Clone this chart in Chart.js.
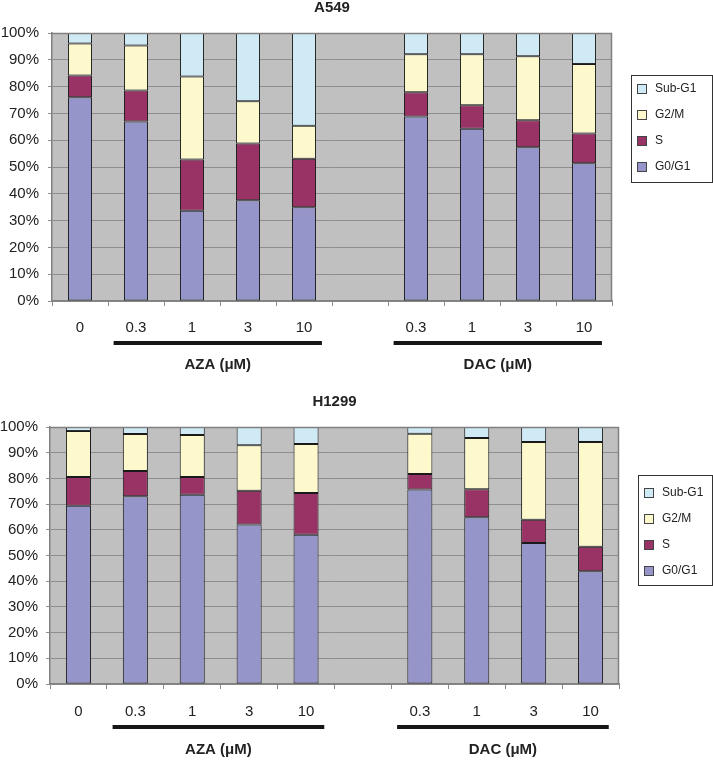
<!DOCTYPE html>
<html><head><meta charset="utf-8">
<script src="https://cdn.jsdelivr.net/npm/chart.js@4.4.0/dist/chart.umd.min.js"></script>
<style>
html,body{margin:0;padding:0;background:#fff;}
.wrap{position:relative;width:713px;height:380px;}
canvas{display:block;}
</style></head><body>
<div class="wrap"><canvas id="c1" width="713" height="380"></canvas></div>
<div class="wrap"><canvas id="c2" width="713" height="380"></canvas></div>
<script>
// ---- data ----
const categories = ['0', '0.3', '1', '3', '10', '', '0.3', '1', '3', '10'];
const seriesNames = ['G0/G1', 'S', 'G2/M', 'Sub-G1'];
const yTickValues = [0, 10, 20, 30, 40, 50, 60, 70, 80, 90, 100];
const groupLabels = ['AZA (μM)', 'DAC (μM)'];
const groupStart = [1, 6];
const groupEnd = [4, 9];

const a549G0G1 = [76, 67, 33.7, 37.6, 35, null, 68.8, 64.3, 57.4, 51.4];
const a549S    = [8.1, 11.5, 19.1, 21.2, 18.1, null, 9.1, 8.7, 10, 11.1];
const a549G2M  = [12, 16.8, 31, 15.7, 12.3, null, 14.2, 19.1, 23.9, 25.9];
const a549SubG1 = [3.9, 4.7, 16.2, 25.5, 34.6, null, 7.9, 7.9, 8.7, 11.6];

const h1299G0G1 = [69.4, 73.1, 73.6, 62.1, 58.1, null, 75.7, 64.9, 54.9, 43.9];
const h1299S    = [11.1, 9.8, 6.9, 13.1, 16.2, null, 6.0, 10.9, 9.0, 9.5];
const h1299G2M  = [17.9, 14.4, 16.4, 17.7, 19.1, null, 15.7, 19.9, 30.3, 40.8];
const h1299SubG1 = [1.6, 2.7, 3.1, 7.1, 6.6, null, 2.6, 4.3, 5.8, 5.8];

// ---- styles ----
const seriesColors = ['#9595c9', '#993366', '#fdf9cd', '#cfeaf5'];
const FONT = "'Liberation Sans', Arial, sans-serif";
const TXT = '#222222';

const decor = {
  id: 'decor',
  beforeDraw(chart) {
    const a = chart.chartArea, ctx = chart.ctx;
    ctx.save();
    ctx.fillStyle = '#c0c0c0';
    ctx.fillRect(a.left, a.top, a.right - a.left, a.bottom - a.top);
    ctx.restore();
  },
  afterDraw(chart, args, o) {
    const a = chart.chartArea, ctx = chart.ctx;
    const xs = chart.scales.x;
    ctx.save();
    // top & right frame
    ctx.strokeStyle = '#808080';
    ctx.lineWidth = 1.5;
    ctx.beginPath();
    ctx.moveTo(a.left, a.top + 0.5);
    ctx.lineTo(a.right - 0.5, a.top + 0.5);
    ctx.lineTo(a.right - 0.5, a.bottom);
    ctx.stroke();
    // group bars and labels
    const w = xs.width / categories.length;
    for (let g = 0; g < groupLabels.length; g++) {
      const x1 = xs.getPixelForValue(groupStart[g]) - 0.4 * w;
      const x2 = xs.getPixelForValue(groupEnd[g]) + 0.32 * w;
      ctx.fillStyle = '#161616';
      ctx.fillRect(x1, a.bottom + o.barOffset - 2, x2 - x1, 4);
      ctx.font = 'bold 15px ' + FONT;
      ctx.textAlign = 'center';
      ctx.textBaseline = 'middle';
      ctx.fillStyle = TXT;
      ctx.fillText(groupLabels[g], (x1 + x2) / 2, a.bottom + o.labelOffset);
    }
    // legend
    const L = o.legend;
    ctx.fillStyle = '#ffffff';
    ctx.fillRect(L.x, L.y, L.w, L.h);
    ctx.strokeStyle = '#333333';
    ctx.lineWidth = 1;
    ctx.strokeRect(L.x + 0.5, L.y + 0.5, L.w - 1, L.h - 1);
    const ds = chart.data.datasets.slice().reverse();
    ctx.font = '12px ' + FONT;
    ctx.textAlign = 'left';
    ctx.textBaseline = 'middle';
    ds.forEach((d, i) => {
      const cy = L.y + L.first + i * L.step;
      ctx.fillStyle = d.backgroundColor;
      ctx.fillRect(L.x + 6, cy - 5, 10, 10);
      ctx.strokeStyle = '#444';
      ctx.strokeRect(L.x + 6.5, cy - 4.5, 9, 9);
      ctx.fillStyle = TXT;
      ctx.fillText(d.label, L.x + 24, cy);
    });
    ctx.restore();
  }
};

function makeChart(id, title, vals, cfg) {
  const datasets = seriesNames.map((n, i) => ({
    label: n,
    data: vals[i],
    backgroundColor: seriesColors[i],
    borderColor: '#1a1a1a',
    borderWidth: 1,
    borderSkipped: false,
    barPercentage: cfg.barPct,
    categoryPercentage: 1
  }));
  return new Chart(document.getElementById(id), {
    type: 'bar',
    data: { labels: categories, datasets },
    plugins: [decor],
    options: {
      responsive: false,
      animation: false,
      devicePixelRatio: 1,
      layout: { padding: { left: 0, right: cfg.right, top: 0, bottom: 0 } },
      plugins: {
        legend: { display: false },
        tooltip: { enabled: false },
        title: {
          display: true, text: title, fullSize: false, color: TXT,
          font: { family: FONT, size: 15, weight: 'bold', lineHeight: 1 },
          padding: { top: cfg.titleTop, bottom: cfg.titleBottom }
        },
        decor: { barOffset: cfg.barOffset, labelOffset: cfg.labelOffset, legend: cfg.legend }
      },
      scales: {
        x: {
          stacked: true,
          offset: true,
          afterFit: s => { s.height = cfg.xHeight; },
          grid: { offset: true, drawOnChartArea: false, drawTicks: true, tickLength: 5, color: '#8a8a8a' },
          border: { display: true, color: '#808080', width: 1.5 },
          ticks: { color: TXT, padding: cfg.xPad, font: { family: FONT, size: 15 }, maxRotation: 0, autoSkip: false }
        },
        y: {
          stacked: true,
          min: 0, max: 100,
          afterFit: s => { s.width = cfg.yWidth; },
          afterBuildTicks: s => { s.ticks = yTickValues.map(v => ({ value: v })); },
          grid: { color: '#8e8e8e', lineWidth: 1, tickLength: 4, drawTicks: true },
          border: { display: true, color: '#808080', width: 1.5 },
          ticks: { color: TXT, padding: cfg.yPad, font: { family: FONT, size: 15 }, callback: v => v + '%' }
        }
      }
    }
  });
}

makeChart('c1', 'A549', [a549G0G1, a549S, a549G2M, a549SubG1], {
  right: 101, titleTop: 0, titleBottom: 18, xHeight: 79, yWidth: 52, xPad: 13, yPad: 9,
  barPct: 0.43, barOffset: 42, labelOffset: 64,
  legend: { x: 631, y: 75, w: 82, h: 108, first: 14, step: 26 }
});
makeChart('c2', 'H1299', [h1299G0G1, h1299S, h1299G2M, h1299SubG1], {
  right: 94, titleTop: 14, titleBottom: 18, xHeight: 76, yWidth: 50, xPad: 14, yPad: 8,
  barPct: 0.44, barOffset: 43, labelOffset: 66,
  legend: { x: 638, y: 95, w: 75, h: 111, first: 18, step: 26 }
});
</script>
</body></html>
